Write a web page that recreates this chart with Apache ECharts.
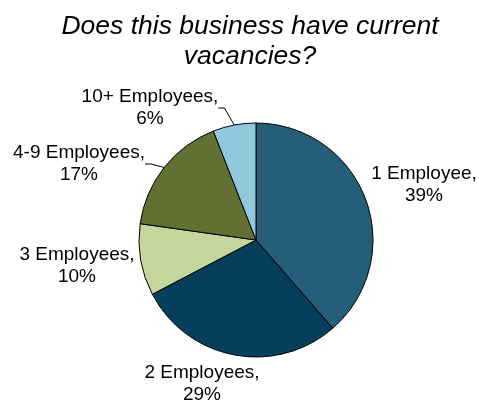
<!DOCTYPE html>
<html>
<head>
<meta charset="utf-8">
<script src="https://cdn.jsdelivr.net/npm/echarts@6/dist/echarts.min.js"></script>
<style>
  html, body { margin: 0; padding: 0; background: #fff; }
  #chart { width: 479px; height: 407px; }
</style>
</head>
<body>
<div id="chart"></div>
<script>
// Share of businesses with current vacancies, by business size
const categories = ['1 Employee', '2 Employees', '3 Employees', '4-9 Employees', '10+ Employees'];
const shares = [39, 29, 10, 17, 6];
const sliceColors = ['#255e79', '#053f5c', '#c5d59e', '#627034', '#92c8dd'];

// Label anchor points (label centre) for each slice, in pixels
const labelSpots = [
  { x: 424, y: 185, line: false },
  { x: 202, y: 384, line: false },
  { x: 77, y: 266, line: false },
  { x: 79, y: 164, line: true },
  { x: 150, y: 108, line: true }
];

const chart = echarts.init(document.getElementById('chart'), null, { renderer: 'canvas' });

chart.setOption({
  animation: false,
  backgroundColor: '#ffffff',
  title: {
    text: 'Does this business have current\nvacancies?',
    left: 245,
    textAlign: 'center',
    top: 7,
    textStyle: {
      fontFamily: 'Liberation Sans, Arial, sans-serif',
      fontStyle: 'italic',
      fontWeight: 'normal',
      fontSize: 26.5,
      lineHeight: 30,
      color: '#000'
    }
  },
  series: [{
    type: 'pie',
    center: [256, 240],
    radius: 117,
    startAngle: 90,
    clockwise: true,
    data: categories.map((name, i) => ({
      name: name,
      value: shares[i],
      itemStyle: { color: sliceColors[i] },
      labelLine: { show: labelSpots[i].line }
    })),
    itemStyle: { borderColor: '#000', borderWidth: 1 },
    label: {
      show: true,
      position: 'outside',
      alignTo: 'none',
      formatter: '{b},\n{c}%',
      fontFamily: 'Liberation Sans, Arial, sans-serif',
      fontSize: 19,
      lineHeight: 22,
      color: '#000',
      align: 'center',
      overflow: 'none'
    },
    labelLine: {
      show: true,
      length: 8,
      length2: 6,
      lineStyle: { color: '#000', width: 1 }
    },
    labelLayout: function (params) {
      const s = labelSpots[params.dataIndex];
      return {
        x: s.x,
        y: s.y,
        align: 'center',
        verticalAlign: 'middle'
      };
    }
  }]
});
</script>
</body>
</html>
